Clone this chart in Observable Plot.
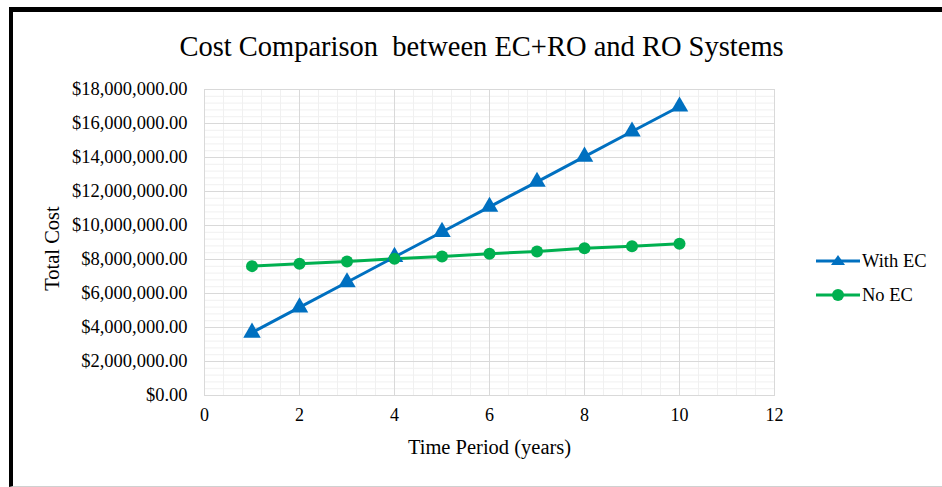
<!DOCTYPE html>
<html>
<head>
<meta charset="utf-8">
<script src="https://cdn.jsdelivr.net/npm/d3@7"></script>
<script src="https://cdn.jsdelivr.net/npm/@observablehq/plot@0.6"></script>
<style>
  html, body { margin: 0; padding: 0; background: #fff; }
  #wrap { position: relative; width: 942px; height: 487px; overflow: hidden; font-family: "Liberation Serif", "Times New Roman", serif; }
  #border { position: absolute; left: 9px; top: 7px; width: 940px; height: 474px; border-left: 4px solid #000; border-top: 5px solid #000; border-bottom: 1px solid #d0d0d0; }
  #chart { position: absolute; left: 0; top: 0; }
  #legend { position: absolute; left: 816px; top: 244px; font-size: 18.5px; color: #000; }
  .item { display: flex; align-items: center; height: 34px; }
  .item svg { margin-right: 2px; }
</style>
</head>
<body>
<div id="wrap">
  <div id="border"></div>
  <div id="chart"></div>
  <div id="legend"></div>
</div>
<script>
const title = "Cost Comparison\u00a0 between EC+RO and RO Systems";
const xLabel = "Time Period (years)";
const yLabel = "Total Cost";
const years = [1, 2, 3, 4, 5, 6, 7, 8, 9, 10];
const withEC = [3700000, 5180000, 6660000, 8150000, 9620000, 11100000, 12570000, 14050000, 15530000, 17000000];
const noEC = [7610000, 7750000, 7880000, 8040000, 8180000, 8340000, 8470000, 8660000, 8780000, 8920000];
const seriesNames = ["With EC", "No EC"];
const seriesColors = ["#0070C0", "#00B050"];
const xTicks = [0, 2, 4, 6, 8, 10, 12];
const yTicks = [0, 2000000, 4000000, 6000000, 8000000, 10000000, 12000000, 14000000, 16000000, 18000000];

const rowsA = years.map((x, i) => ({x, y: withEC[i]}));
const rowsB = years.map((x, i) => ({x, y: noEC[i]}));
const minorX = d3.range(0, 12.0001, 0.4);
const minorY = d3.range(0, 18000001, 400000);
const fmt = d3.format("$,.2f");

const chart = Plot.plot({
  width: 942,
  height: 487,
  marginLeft: 204,
  marginRight: 168,
  marginTop: 89,
  marginBottom: 92,
  style: {fontFamily: "'Liberation Serif', 'Times New Roman', serif", fontSize: "18px", color: "#000", background: "transparent"},
  x: {domain: [0, 12], ticks: xTicks, tickSize: 0, tickPadding: 14, label: null},
  y: {domain: [0, 18000000], ticks: yTicks, tickSize: 0, tickPadding: 17, tickFormat: fmt, label: null},
  marks: [
    Plot.gridX(minorX, {stroke: "#f0f0f0", strokeOpacity: 1}),
    Plot.gridY(minorY, {stroke: "#f0f0f0", strokeOpacity: 1}),
    Plot.gridX(xTicks, {stroke: "#d9d9d9", strokeOpacity: 1}),
    Plot.gridY(yTicks, {stroke: "#d9d9d9", strokeOpacity: 1}),
    Plot.frame({stroke: "#d9d9d9"}),
    Plot.axisX({ticks: xTicks, tickSize: 0, tickPadding: 13, fontSize: 18, label: null}),
    Plot.axisY({ticks: yTicks, tickSize: 0, tickPadding: 17, tickFormat: fmt, fontSize: 18.5, label: null}),
    Plot.line(rowsA, {x: "x", y: "y", stroke: seriesColors[0], strokeWidth: 3}),
    Plot.line(rowsB, {x: "x", y: "y", stroke: seriesColors[1], strokeWidth: 3}),
    Plot.dot(rowsA, {x: "x", y: "y", symbol: "triangle", r: 6.5, fill: seriesColors[0], stroke: "none"}),
    Plot.dot(rowsB, {x: "x", y: "y", symbol: "circle", r: 6, fill: seriesColors[1], stroke: "none"}),
    Plot.text([title], {frameAnchor: "top", lineAnchor: "middle", dx: -8, dy: -43, fontSize: 28.5, fill: "#000"}),
    Plot.text([xLabel], {frameAnchor: "bottom", lineAnchor: "middle", dy: 52, fontSize: 20.5, fill: "#000"}),
    Plot.text([yLabel], {frameAnchor: "left", textAnchor: "middle", lineAnchor: "middle", dx: -152, dy: 6, rotate: -90, fontSize: 20.5, fill: "#000"})
  ]
});
document.getElementById("chart").appendChild(chart);

const legend = document.getElementById("legend");
seriesNames.forEach((name, i) => {
  const item = document.createElement("div");
  item.className = "item";
  const sym = i === 0
    ? `<polygon points="22,2 29,12 15,12" fill="${seriesColors[i]}"/>`
    : `<circle cx="22" cy="8" r="6" fill="${seriesColors[i]}"/>`;
  item.innerHTML = `<svg width="44" height="16" viewBox="0 0 44 16"><line x1="0" y1="8" x2="44" y2="8" stroke="${seriesColors[i]}" stroke-width="3"/>${sym}</svg><span>${name}</span>`;
  legend.appendChild(item);
});
</script>
</body>
</html>
